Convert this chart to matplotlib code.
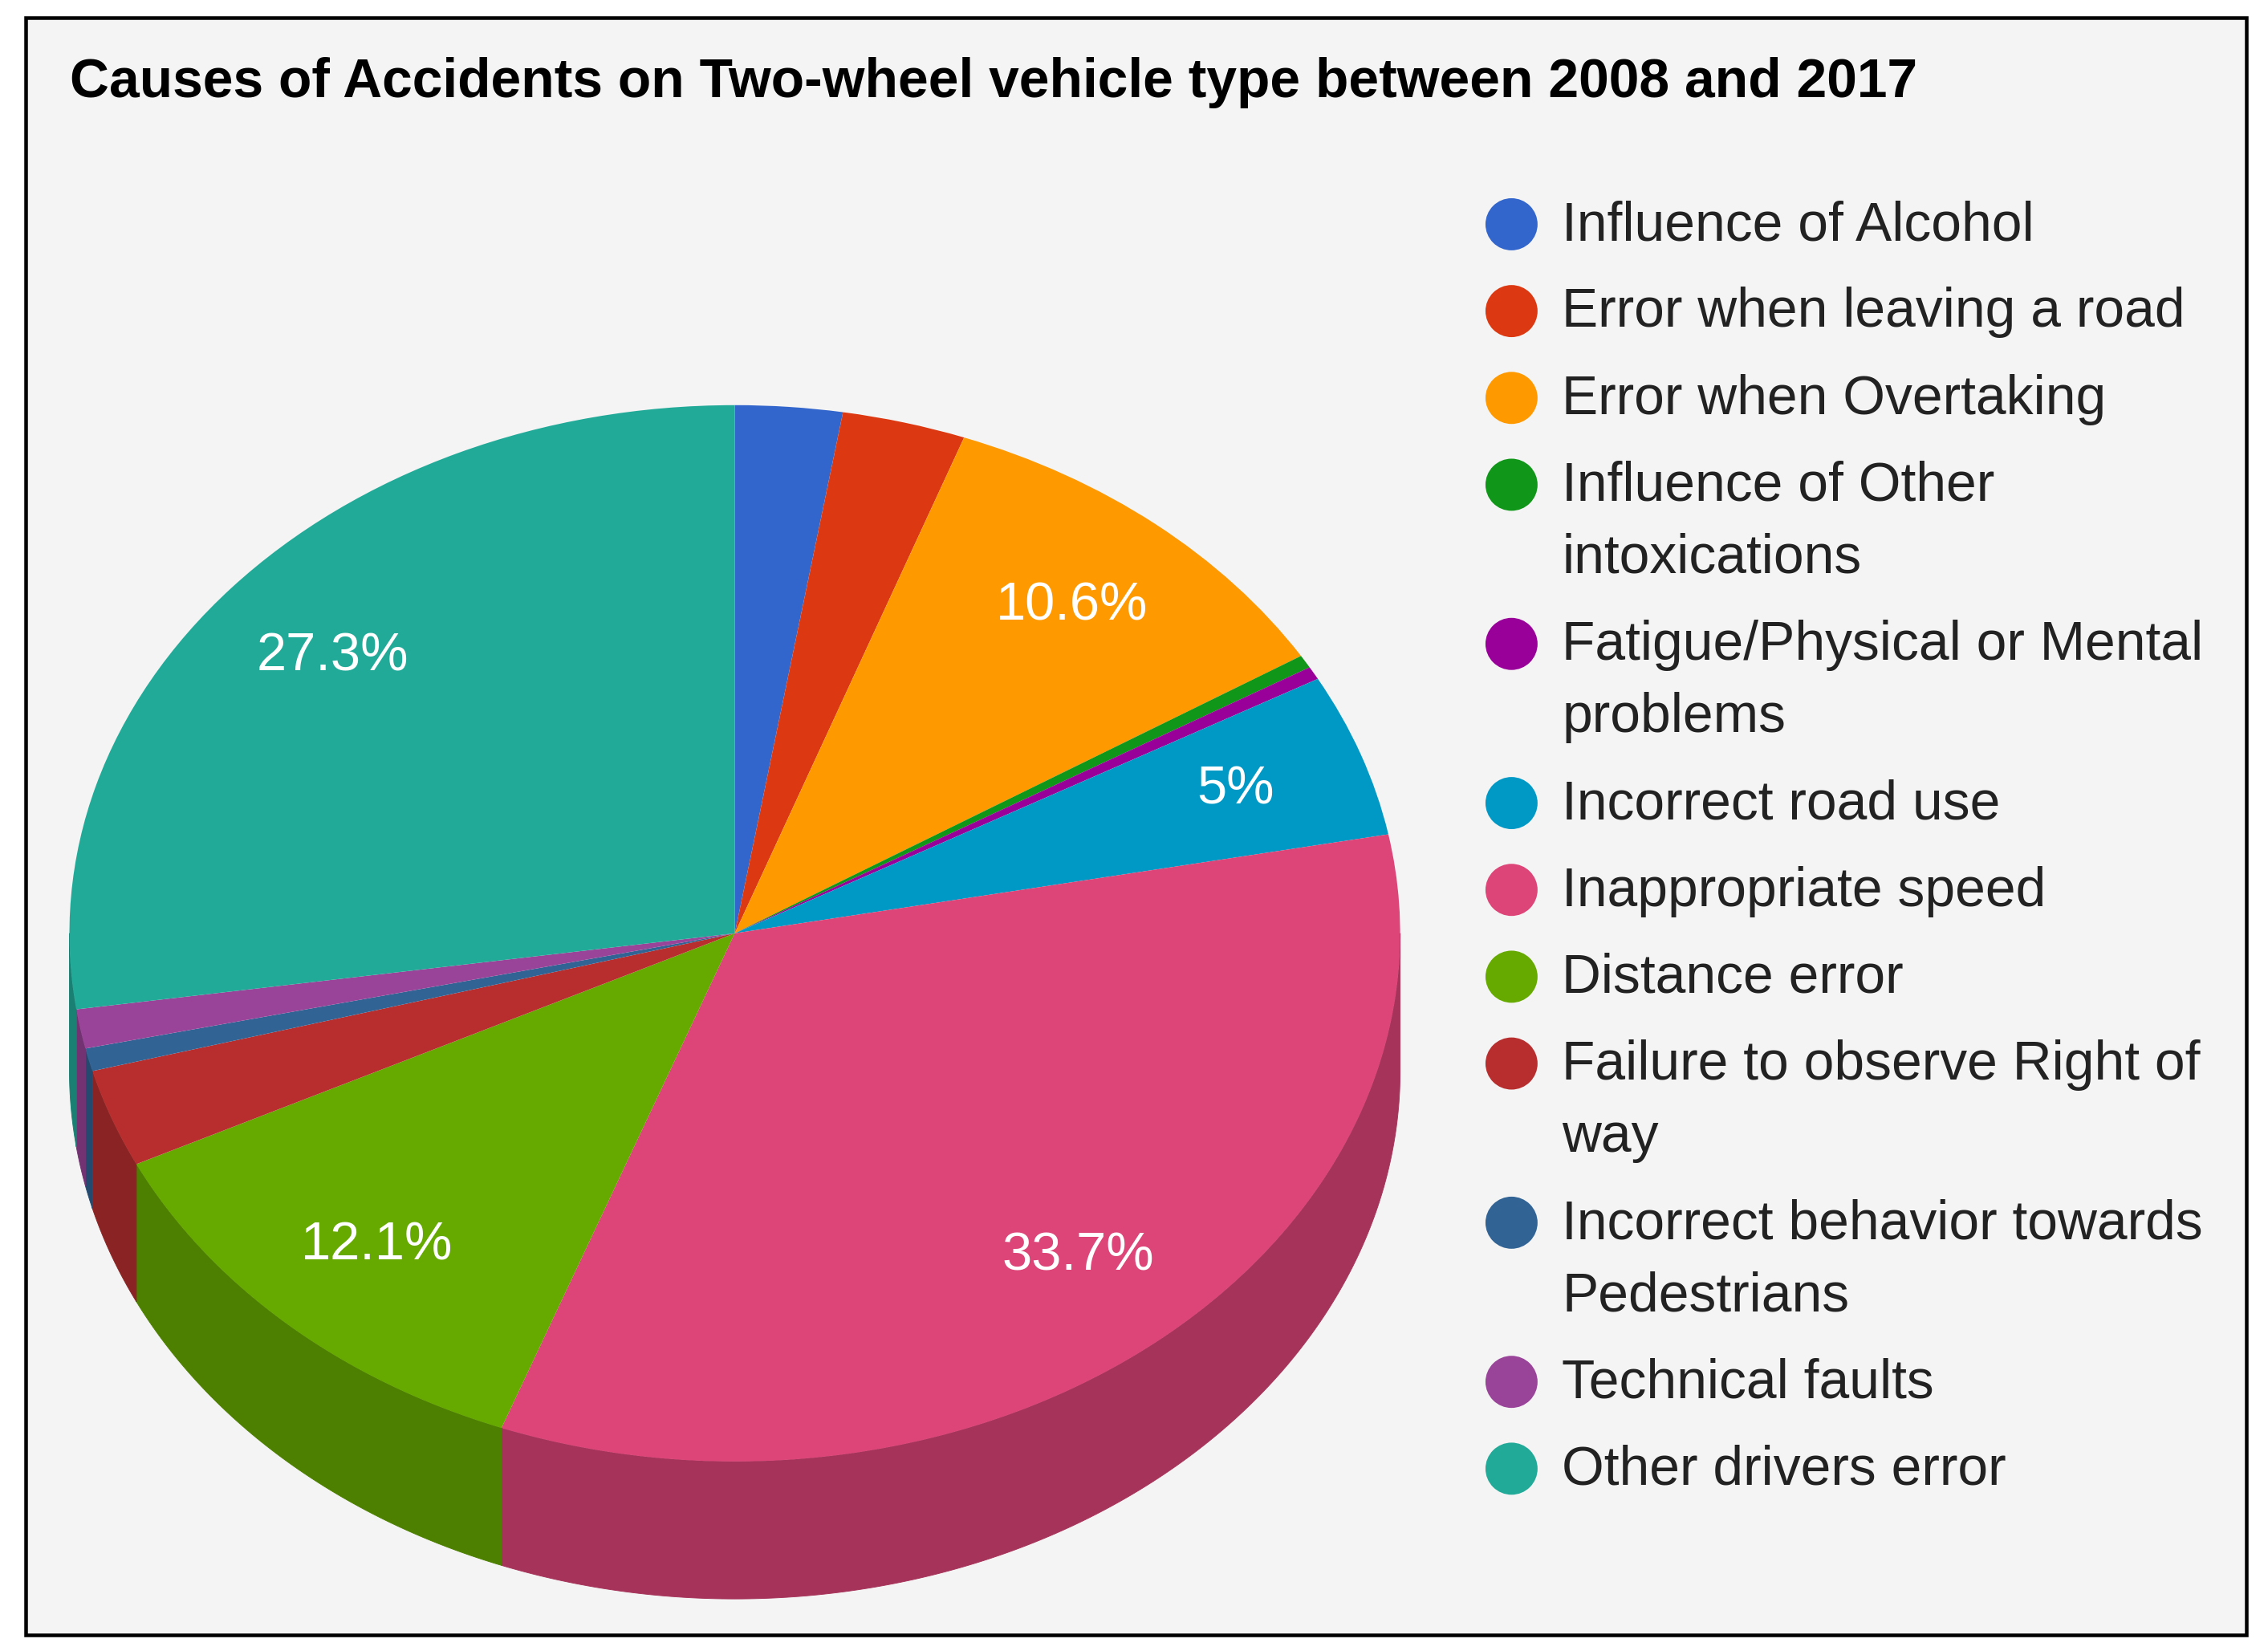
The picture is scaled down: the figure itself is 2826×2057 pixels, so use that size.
import matplotlib
matplotlib.use("Agg")
import matplotlib.pyplot as plt
from matplotlib.patches import Polygon, Rectangle, Circle
from matplotlib.colors import to_rgb
import numpy as np

plt.rcParams['font.family'] = ['Liberation Sans', 'DejaVu Sans']

title = "Causes of Accidents on Two-wheel vehicle type between 2008 and 2017"
causes = ["Influence of Alcohol", "Error when leaving a road", "Error when Overtaking",
          "Influence of Other\nintoxications", "Fatigue/Physical or Mental\nproblems",
          "Incorrect road use", "Inappropriate speed", "Distance error",
          "Failure to observe Right of\nway", "Incorrect behavior towards\nPedestrians",
          "Technical faults", "Other drivers error"]
shares = [2.6, 3.0, 10.6, 0.4, 0.4, 5.0, 33.7, 12.1, 3.0, 0.7, 1.2, 27.3]
colors = ["#3366cc", "#dc3912", "#ff9900", "#109618", "#990099", "#0099c6",
          "#dd4477", "#66aa00", "#b82e2e", "#316395", "#994499", "#22aa99"]

# layout units (the whole picture is W x H of them)
W, H = 1568, 1141
fig = plt.figure(figsize=(2826 / 130, 2057 / 130), dpi=130, facecolor='white')

bg = fig.add_axes([0, 0, 1, 1])
bg.set_xlim(0, W)
bg.set_ylim(H, 0)
bg.axis('off')
bg.add_patch(Rectangle((18, 12), 1535, 1118, facecolor='#f4f4f4',
                       edgecolor='black', linewidth=2.5))
bg.text(48, 57, title, fontsize=37.5, fontweight='bold', color='black',
        ha='left', va='center')

# legend
y = 156
for name, col in zip(causes, colors):
    bg.add_patch(Circle((1045, y - 1), 18, facecolor=col, edgecolor='none'))
    lines = name.split("\n")
    for k, line in enumerate(lines):
        bg.text(1080, y + 50 * k, line, fontsize=37.5, color='#222222',
                ha='left', va='center')
    y += 50 * (len(lines) - 1) + 60

# 3D pie: top face via ax.pie on a stretched axes, side walls drawn below
cx, cy, rx, ry, depth = 508, 645, 460, 365, 95
ax = fig.add_axes([0, 0, 1, 1], zorder=1)
ax.patch.set_visible(False)


def pct_label(p):
    if p < 4.5:
        return ''
    return f"{p:.1f}".rstrip('0').rstrip('.') + '%'


wedges, texts, autotexts = ax.pie(
    shares, colors=colors, startangle=90, counterclock=False,
    autopct=pct_label, pctdistance=0.8,
    wedgeprops=dict(linewidth=0, zorder=2),
    textprops=dict(color='white', fontsize=37))
for t in autotexts:
    t.set_zorder(3)
ax.set_aspect('auto')
ax.set_xlim(-cx / rx, (W - cx) / rx)
ax.set_ylim((cy - H) / ry, cy / ry)
ax.axis('off')

d = depth / ry
ends = np.cumsum(shares) / np.sum(shares) * 360
starts = ends - np.array(shares) / np.sum(shares) * 360
for t0, t1, col in zip(starts, ends, colors):
    a0, a1 = max(t0, 90), min(t1, 270)
    if a1 <= a0:
        continue
    tt = np.radians(np.linspace(a0, a1, 200))
    top = np.column_stack([np.sin(tt), np.cos(tt)])
    bot = top[::-1] - [0, d]
    side = tuple(c * 0.75 for c in to_rgb(col))
    ax.add_patch(Polygon(np.vstack([top, bot]), closed=True, facecolor=side,
                         edgecolor=side, linewidth=0.5, zorder=1))

fig.savefig("out.png", dpi=130, facecolor='white')
